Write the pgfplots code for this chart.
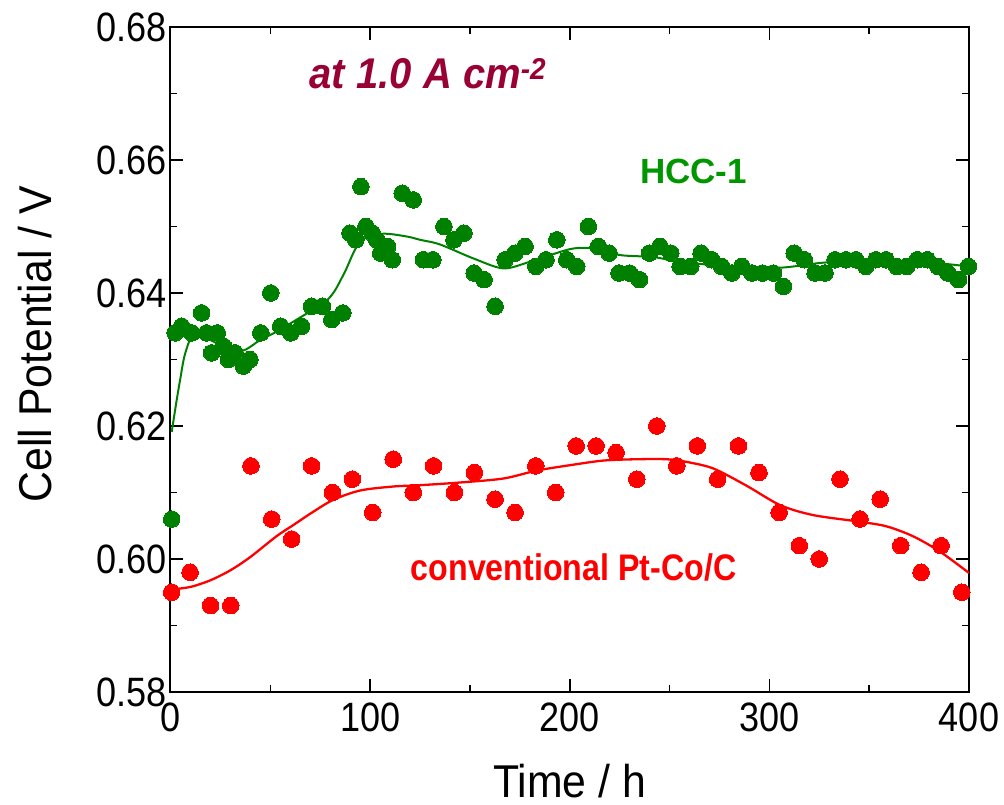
\documentclass[border=0pt]{standalone}
\usepackage{fontspec}
\setmainfont{Liberation Sans}
\newfontfamily\tickfont[FakeStretch=0.88]{Liberation Sans}
\newfontfamily\labelfont[FakeStretch=0.93]{Liberation Sans}
\newfontfamily\redfont[FakeStretch=0.87]{Liberation Sans}
\newfontfamily\topfont[FakeStretch=0.93]{Liberation Sans}
\usepackage{pgfplots}
\pgfplotsset{compat=1.18}
\definecolor{dotgreen}{RGB}{0,128,0}
\definecolor{txtgreen}{RGB}{0,150,0}
\definecolor{maroonred}{RGB}{153,0,51}
\begin{document}
\begin{tikzpicture}
\begin{axis}[
  scale only axis,
  width=798.5pt, height=665pt,
  xmin=0, xmax=400, ymin=0.58, ymax=0.68,
  xtick={0,100,200,300,400},
  ytick={0.58,0.6,0.62,0.64,0.66,0.68},
  minor x tick num=1, minor y tick num=1,
  tick align=inside,
  major tick length=13pt, minor tick length=7pt,
  every tick/.style={black, line width=1.5pt},
  axis line style={line width=2pt},
  ticklabel style={font=\tickfont\fontsize{41}{41}\selectfont},
  /pgf/number format/assume math mode=true,
  yticklabel style={/pgf/number format/.cd, fixed, fixed zerofill, precision=2},
  xticklabel style={yshift=-7pt, /pgf/number format/.cd, fixed, precision=0},
  scaled y ticks=false,
  xlabel={Time / h},
  ylabel={Cell Potential / V},
  label style={font=\labelfont\fontsize{46}{46}\selectfont},
  xlabel style={at={(axis description cs:0.5,0)}, anchor=base, yshift=-106pt},
  ylabel style={at={([xshift=-118.5pt]axis description cs:0,0.523)}, anchor=base, rotate=0},
  clip=false,
]
% green fitted curve
\addplot[dotgreen, line width=2pt, smooth, tension=0.5] coordinates {
(0.6,0.6191) (3.1,0.6239) (4.8,0.6269) (7,0.6305) (10.6,0.6334) (16,0.6335)
(25,0.6322) (35.7,0.6313) (44.8,0.6329) (53.2,0.6342) (68.2,0.6369) (76.6,0.6384)
(82,0.6402) (87.4,0.6432) (94.9,0.6477) (105.8,0.6489) (118.3,0.6485) (125,0.6480)
(135,0.6473) (151.7,0.6452) (166.7,0.6437) (180.1,0.6447) (200.2,0.6466) (211.8,0.6467)
(225.2,0.6457) (241.9,0.6454) (255.3,0.6447) (280,0.6440) (305.3,0.6438) (328.8,0.6446)
(360,0.6448) (380,0.6446) (399.7,0.6440)
};
% red fitted curve
\addplot[red, line width=2.3pt, smooth, tension=0.5] coordinates {
(0,0.5954) (10,0.5958) (20,0.5968) (30,0.5983) (40,0.6003) (53,0.6034) (61.5,0.6051)
(71.5,0.6071) (81.6,0.6089) (95,0.6103) (111.6,0.6109) (125,0.6111) (145,0.6115)
(166.7,0.6121) (183.5,0.6133) (200,0.6141) (216.8,0.6148) (233.6,0.6150) (248.6,0.6150)
(258.6,0.6146) (272,0.6136) (288.7,0.6110) (305.4,0.6081) (322,0.6066) (345.4,0.6056)
(358.8,0.6049) (372.1,0.6034) (385.5,0.6011) (400,0.5979)
};
% red data
\addplot[red, only marks, mark=*, mark size=8.3pt, mark options={draw=red, fill=red, line width=0pt}] coordinates {
(0.6,0.595) (9.8,0.598) (20.1,0.593) (30.2,0.593) (40.3,0.614) (50.7,0.606) (60.7,0.603)
(70.7,0.614) (81.1,0.610) (91.1,0.612) (101.3,0.607) (111.6,0.615) (121.6,0.610)
(131.8,0.614) (142.2,0.610) (152.2,0.613) (162.6,0.609) (172.6,0.607) (183.0,0.614)
(193.0,0.610) (203.2,0.617) (213.2,0.617) (223.2,0.616) (233.6,0.612) (243.6,0.620)
(253.6,0.614) (263.9,0.617) (274.1,0.612) (284.5,0.617) (294.8,0.613) (304.9,0.607)
(315.0,0.602) (325.0,0.600) (335.4,0.612) (345.4,0.606) (355.5,0.609) (365.8,0.602)
(376.0,0.598) (386.0,0.602) (396.4,0.595)
};
% green data
\addplot[dotgreen, only marks, mark=*, mark size=8.3pt, mark options={draw=dotgreen, fill=dotgreen, line width=0pt}] coordinates {
(0.6,0.606)
(2.3,0.634) (5.6,0.635) (10.6,0.634) (15.6,0.637) (18.1,0.634) (20.6,0.631) (23.4,0.634)
(26.5,0.632) (29.0,0.630) (32.3,0.631) (36.5,0.629) (39.8,0.630) (45.2,0.634) (50.2,0.640)
(55.2,0.635) (60.2,0.634) (65.7,0.635) (70.7,0.638) (76.1,0.638) (80.8,0.636) (86.3,0.637)
(89.9,0.649) (92.8,0.648) (95.4,0.656) (97.9,0.650) (101.1,0.649) (103.3,0.648) (105.3,0.646)
(108.8,0.647) (111.1,0.645) (116.1,0.655) (121.6,0.654) (126.7,0.645) (131.4,0.645)
(137.0,0.650) (142.0,0.648) (147.0,0.649) (152.1,0.643) (157.1,0.642) (162.6,0.638)
(167.6,0.645) (172.6,0.646) (177.6,0.647) (183.0,0.644) (188.1,0.645) (193.5,0.648)
(198.5,0.645) (203.5,0.644) (209.3,0.650) (214.3,0.647) (219.7,0.646) (224.7,0.643)
(229.9,0.643) (234.9,0.642) (239.9,0.646) (245.2,0.647) (250.6,0.646) (255.3,0.644)
(260.6,0.644) (265.8,0.646) (271.1,0.645) (276.1,0.644) (281.2,0.643) (286.2,0.644)
(291.2,0.643) (296.5,0.643) (302.0,0.643) (307.0,0.641) (312.4,0.646) (317.5,0.645)
(322.9,0.643) (327.9,0.643) (332.9,0.645) (338.3,0.645) (343.3,0.645) (348.3,0.644)
(353.3,0.645) (358.5,0.645) (363.8,0.644) (368.8,0.644) (374.1,0.645) (379.1,0.645)
(384.4,0.644) (389.4,0.643) (394.7,0.642) (399.7,0.644)
};
\node[anchor=base, text=maroonred, font=\topfont\fontsize{43}{43}\selectfont\bfseries\itshape]
  at (axis cs:129,0.6708) {at 1.0 A cm\textsuperscript{-2}};
\node[anchor=base, text=txtgreen, font=\fontsize{35}{35}\selectfont\bfseries]
  at (axis cs:262,0.6565) {HCC-1};
\node[anchor=base, text=red, font=\redfont\fontsize{37}{37}\selectfont\bfseries]
  at (axis cs:201.9,0.5968) {conventional Pt-Co/C};
\end{axis}
\pgfresetboundingbox
\useasboundingbox (-170.5pt,-113pt) rectangle (833.5pt,692pt);
\end{tikzpicture}
\end{document}
